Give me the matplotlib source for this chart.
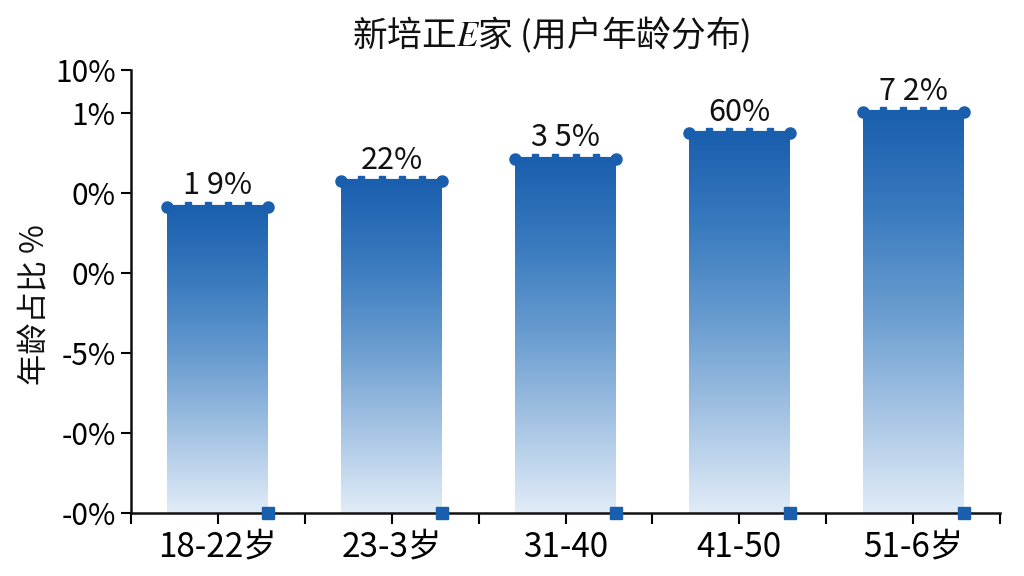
import matplotlib
matplotlib.use("Agg")
import matplotlib.pyplot as plt
import numpy as np
from matplotlib.colors import LinearSegmentedColormap

plt.rcParams['font.family'] = ['Noto Sans CJK SC', 'DejaVu Sans']
plt.rcParams['mathtext.fontset'] = 'stix'

categories = ["18-22岁", "23-3岁", "31-40", "41-50", "51-6岁"]
heights = [3.83, 4.15, 4.43, 4.75, 5.01]
value_labels = ["1 9%", "22%", "3 5%", "60%", "7 2%"]
ytick_vals = [0, 1, 2, 3, 4, 5, 5.54]
ytick_labels = ["-0%", "-0%", "-5%", "0%", "0%", "1%", "10%"]
title = "新培正$E$家 (用户年龄分布)"
ylabel = "年龄占比 %"

fig = plt.figure(figsize=(10.24, 5.76), dpi=100)
ax = fig.add_axes([131/1024, 63/576, (1000-131)/1024, (513-70)/576])

cmap = LinearSegmentedColormap.from_list(
    "g", [(0.0, "#e1ecf7"), (0.25, "#a6c4e4"), (0.5, "#6a9dd0"),
          (0.75, "#3a7bbf"), (1.0, "#1a5fae")])
grad = np.linspace(0, 1, 256).reshape(-1, 1)
w = 0.58
dark = "#1a5fae"
x = np.arange(len(categories))
for xi, h, lab in zip(x, heights, value_labels):
    ax.imshow(grad, extent=[xi - w/2, xi + w/2, 0, h], origin="lower",
              cmap=cmap, aspect="auto", zorder=2)
    ax.plot([xi - w/2, xi + w/2], [h, h], color=dark, lw=3, zorder=3,
            solid_capstyle="butt")
    ax.plot([xi - w/2, xi + w/2], [h, h], 'o', color=dark, ms=8, zorder=4)
    bx = xi - w/2 + w * np.array([0.2, 0.4, 0.6, 0.8])
    ax.plot(bx, [h + 0.025] * 4, 's', color=dark, ms=4.5, zorder=4)
    ax.plot([xi + w/2], [0], 's', color=dark, ms=8, zorder=5, clip_on=False)
    ax.annotate(lab, (xi, h), xytext=(0, 4), textcoords="offset points",
                ha="center", va="bottom", fontsize=22, color="#111111")

ax.set_xlim(-0.5, 4.5)
ax.set_ylim(0, 5.54)
ax.set_xticks(x)
ax.set_xticklabels(categories, fontsize=24)
ax.set_xticks(np.arange(-0.5, 5, 1), minor=True)
ax.set_yticks(ytick_vals)
ax.set_yticklabels(ytick_labels, fontsize=21.5)
ax.tick_params(axis="x", which="both", direction="out", length=8, width=1.5, pad=4)
ax.tick_params(axis="y", direction="out", length=7, width=1.5, pad=4)
for s in ["top", "right"]:
    ax.spines[s].set_visible(False)
for s in ["left", "bottom"]:
    ax.spines[s].set_linewidth(1.8)
    ax.spines[s].set_color("#111111")

fig.text(551/1024, 1 - 35/576, title, ha="center", va="center", fontsize=25, color="#111111")
fig.text(35/1024, 1 - 305/576, ylabel, ha="center", va="center", rotation=90, fontsize=22.5, color="#111111")

fig.savefig("out.png", dpi=100, facecolor="white")
